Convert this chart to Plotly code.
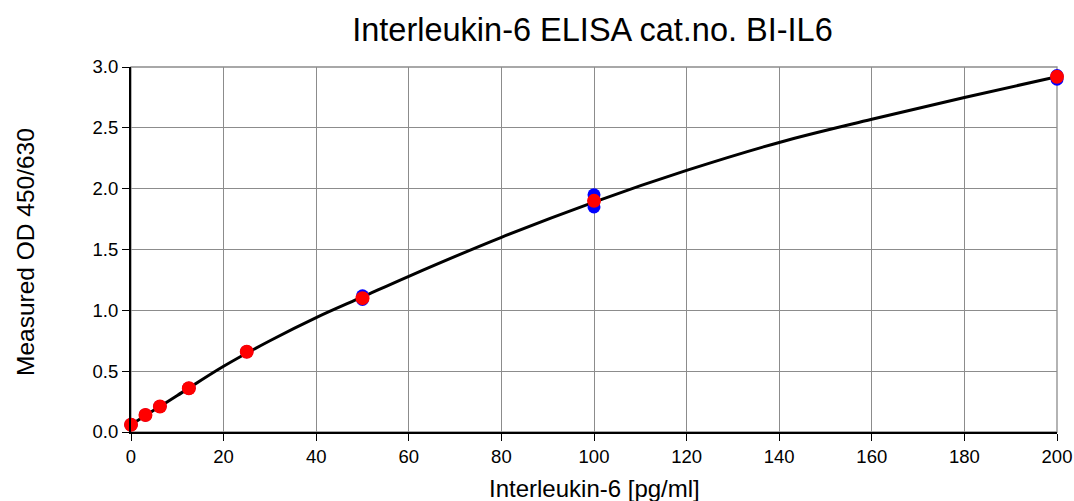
import plotly.graph_objects as go

conc = [0, 3.125, 6.25, 12.5, 25, 50, 100, 200]
mean_od = [0.06, 0.14, 0.21, 0.36, 0.66, 1.10, 1.90, 2.92]
rep1 = [0.06, 0.14, 0.21, 0.36, 0.66, 1.12, 1.95, 2.93]
rep2 = [0.06, 0.14, 0.21, 0.36, 0.66, 1.09, 1.85, 2.90]

curve_x = [0, 5, 10, 20, 30, 40, 50, 60, 80, 100, 120, 140, 160, 180, 200]
curve_y = [0.06, 0.18, 0.30, 0.54, 0.75, 0.94, 1.11, 1.28, 1.60, 1.89, 2.15, 2.38, 2.57, 2.75, 2.92]

W, H = 1074, 501

fig = go.Figure()
fig.add_trace(go.Scatter(x=curve_x, y=curve_y, mode="lines", line=dict(color="black", width=3, shape="spline"),
                         showlegend=False, hoverinfo="skip", cliponaxis=False))
fig.add_trace(go.Scatter(x=conc + conc, y=rep1 + rep2, mode="markers", cliponaxis=False,
                         marker=dict(color="blue", size=13), showlegend=False))
fig.add_trace(go.Scatter(x=conc, y=mean_od, mode="markers", cliponaxis=False,
                         marker=dict(color="red", size=14), showlegend=False))

fig.update_layout(
    width=W, height=H,
    margin=dict(l=131, r=17, t=67, b=69, autoexpand=False),
    paper_bgcolor="white", plot_bgcolor="white",
    font=dict(family="Liberation Sans, Arial, sans-serif", color="black", size=18),
    title=dict(text="Interleukin-6 ELISA cat.no. BI-IL6", x=592.5 / W, xanchor="center",
               y=1 - 30 / H, yanchor="middle", font=dict(size=32.5)),
)
fig.update_xaxes(range=[0, 200], dtick=20, showgrid=True, gridcolor="#8c8c8c", gridwidth=1.3,
                 showline=True, linecolor="black", linewidth=2, ticks="outside", ticklen=7, tickcolor="black",
                 tickfont=dict(size=18.5), mirror=False, zeroline=False, automargin=False)
fig.update_yaxes(range=[0, 3.0], dtick=0.5, tickformat=".1f", showgrid=True, gridcolor="#8c8c8c", gridwidth=1.3,
                 showline=True, linecolor="black", linewidth=2, ticks="outside", ticklen=7, tickcolor="black",
                 tickfont=dict(size=18.5), zeroline=False, automargin=False)
fig.add_shape(type="rect", xref="paper", yref="paper", x0=0, y0=0, x1=1, y1=1,
              line=dict(color="#8c8c8c", width=1.3), layer="below")
fig.add_annotation(text="Interleukin-6 [pg/ml]", xref="paper", yref="paper",
                   x=(594 - 131) / 926, y=-(489 - 432) / 365, xanchor="center", yanchor="middle",
                   showarrow=False, font=dict(size=24))
fig.add_annotation(text="Measured OD 450/630", xref="paper", yref="paper",
                   x=-(131 - 25) / 926, y=(432 - 252) / 365, xanchor="center", yanchor="middle",
                   textangle=-90, showarrow=False, font=dict(size=24.5))
fig.write_html("out.html", config={"displayModeBar": False},
               post_script="document.body.style.margin='0';document.body.style.overflow='hidden';")
